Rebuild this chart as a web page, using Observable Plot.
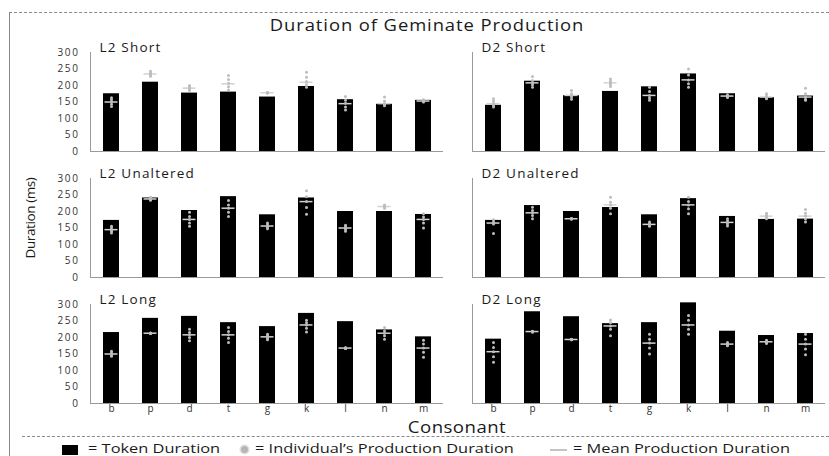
<!DOCTYPE html>
<html><head><meta charset="utf-8">
<script src="https://cdn.jsdelivr.net/npm/d3@7"></script>
<script src="https://cdn.jsdelivr.net/npm/@observablehq/plot@0.6"></script>
<style>
body{margin:0;background:#fff;font-family:"Open Sans",sans-serif;}
#wrap{position:relative;width:829px;height:456px;overflow:hidden;background:#fff;}
#chart{position:absolute;left:0;top:0;}
.abs{position:absolute;white-space:nowrap;color:#1a1a1a;line-height:1;}
.leg{font-size:12.5px;line-height:13px;top:442px;transform-origin:0 50%;transform:scaleX(1.31);}
#chart g[aria-label="text"] text{letter-spacing:1.2px;}
#chart g[aria-label="y-axis tick label"] text{letter-spacing:1.6px;}
</style></head><body>
<div id="wrap">
  <div id="chart"></div>
  <div class="abs" style="left:9px;top:12px;width:820px;border-top:1px dashed #8a8a8a;"></div>
  <div class="abs" style="left:9px;top:12px;height:444px;border-left:1px solid #8a8a8a;"></div>
  <div class="abs" style="left:22px;top:436px;width:807px;border-top:1px dashed #8a8a8a;"></div>
  <div class="abs" id="title" style="left:427px;top:25px;transform:translate(-50%,-50%) scaleX(1.15);font-size:16px;letter-spacing:0.8px;"></div>
  <div class="abs" id="ylabel" style="left:31px;top:218px;transform:translate(-50%,-50%) rotate(-90deg);font-size:13.5px;letter-spacing:-0.4px;"></div>
  <div class="abs" id="xlabel" style="left:457px;top:428px;transform:translate(-50%,-50%) scaleX(1.2);font-size:15.5px;letter-spacing:0.4px;"></div>
  <div class="abs" style="left:62px;top:445px;width:16px;height:10px;background:#000;"></div>
  <div class="abs leg" id="leg1" style="left:88px;"></div>
  <div class="abs" style="left:241px;top:446px;width:7px;height:7px;border-radius:50%;background:#b5b5b5;box-shadow:0 0 0 1.5px #e0e0e0;"></div>
  <div class="abs leg" id="leg2" style="left:255px;"></div>
  <div class="abs" style="left:550px;top:449px;width:17px;height:0;border-top:2px solid #c4c4c4;"></div>
  <div class="abs leg" id="leg3" style="left:573px;"></div>
</div>
<script>
// ---- texts ----
const titleText = "Duration of Geminate Production";
const yLabelText = "Duration (ms)";
const xLabelText = "Consonant";
const legendTexts = ["= Token Duration", "= Individual\u2019s Production Duration", "= Mean Production Duration"];

// ---- categories ----
const consonants = ["b", "p", "d", "t", "g", "k", "l", "n", "m"];
const groups = ["L2", "D2"];
const lengths = ["Short", "Unaltered", "Long"];
const yTicks = [0, 50, 100, 150, 200, 250, 300];

// ---- token durations (bars) ----
const tokenL2Short     = [175, 210, 177, 180, 165, 197, 157, 143, 155];
const tokenD2Short     = [140, 213, 169, 182, 196, 235, 175, 163, 168];
const tokenL2Unaltered = [173, 241, 203, 245, 190, 241, 200, 200, 191];
const tokenD2Unaltered = [173, 218, 200, 212, 190, 239, 185, 176, 177];
const tokenL2Long      = [215, 258, 264, 245, 233, 273, 248, 223, 202];
const tokenD2Long      = [195, 278, 263, 242, 245, 305, 219, 206, 212];

// ---- mean production durations (dashes) ----
const meanL2Short     = [150, 235, 192, 205, 178, 210, 145, 145, 153];
const meanD2Short     = [145, 208, 170, 208, 170, 217, 168, 165, 165];
const meanL2Unaltered = [145, 238, 176, 210, 156, 230, 150, 215, 176];
const meanD2Unaltered = [165, 196, 178, 220, 161, 220, 167, 186, 186];
const meanL2Long      = [150, 213, 208, 208, 202, 238, 168, 213, 168];
const meanD2Long      = [157, 218, 194, 235, 183, 238, 180, 187, 180];

// ---- individual production durations (dots) ----
const indivL2Short = [
  [163, 157, 150, 143, 136], [243, 238, 235, 232, 228], [200, 196, 192, 188, 185],
  [230, 218, 207, 196, 186], [179, 178, 178, 177, 177], [240, 225, 212, 203, 195],
  [167, 155, 146, 135, 126], [165, 152, 145, 141, 139], [157, 155, 153, 152, 150]];
const indivD2Short = [
  [160, 152, 145, 140, 135], [227, 215, 208, 202, 195], [185, 175, 170, 165, 158],
  [220, 213, 208, 203, 197], [195, 182, 170, 162, 155], [250, 232, 217, 205, 195],
  [172, 170, 168, 166, 164], [175, 168, 165, 162, 160], [192, 175, 165, 158, 155]];
const indivL2Unaltered = [
  [155, 150, 145, 140, 135], [243, 240, 238, 236, 234], [198, 185, 176, 165, 155],
  [233, 220, 210, 198, 185], [165, 160, 156, 152, 148], [263, 245, 230, 212, 192],
  [158, 153, 150, 146, 140], [220, 217, 215, 213, 210], [193, 183, 176, 165, 150]];
const indivD2Unaltered = [
  [175, 168, 165, 162, 133], [213, 203, 196, 188, 178], [179, 178, 178, 177, 177],
  [243, 228, 220, 210, 193], [168, 163, 161, 158, 155], [243, 230, 220, 208, 193],
  [178, 172, 167, 162, 156], [195, 190, 186, 182, 178], [206, 195, 186, 177, 168]];
const indivL2Long = [
  [158, 153, 150, 147, 143], [214, 213, 213, 212, 212], [225, 215, 208, 200, 190],
  [230, 218, 208, 198, 185], [210, 205, 202, 198, 193], [252, 245, 238, 228, 217],
  [169, 168, 168, 167, 167], [230, 220, 213, 205, 195], [192, 180, 168, 155, 140]];
const indivD2Long = [
  [185, 170, 157, 142, 125], [219, 218, 218, 217, 217], [195, 194, 194, 193, 193],
  [253, 245, 235, 225, 205], [210, 195, 183, 168, 150], [267, 252, 238, 225, 210],
  [185, 182, 180, 178, 175], [192, 189, 187, 185, 182], [210, 195, 180, 165, 148]];

// ---- tables built from the arrays ----
const panels = [
  {g: "L2", len: "Short", token: tokenL2Short, mean: meanL2Short, indiv: indivL2Short},
  {g: "D2", len: "Short", token: tokenD2Short, mean: meanD2Short, indiv: indivD2Short},
  {g: "L2", len: "Unaltered", token: tokenL2Unaltered, mean: meanL2Unaltered, indiv: indivL2Unaltered},
  {g: "D2", len: "Unaltered", token: tokenD2Unaltered, mean: meanD2Unaltered, indiv: indivD2Unaltered},
  {g: "L2", len: "Long", token: tokenL2Long, mean: meanL2Long, indiv: indivL2Long},
  {g: "D2", len: "Long", token: tokenD2Long, mean: meanD2Long, indiv: indivD2Long}
];
const bars = panels.flatMap(p => consonants.map((c, i) => ({g: p.g, len: p.len, c, v: p.token[i]})));
const means = panels.flatMap(p => consonants.map((c, i) => ({g: p.g, len: p.len, c, v: p.mean[i]})));
const indiv = panels.flatMap(p => consonants.flatMap((c, i) => p.indiv[i].map(v => ({g: p.g, len: p.len, c, v}))));
const labels = panels.map(p => ({g: p.g, len: p.len, label: `${p.g} ${p.len}`}));

const chart = Plot.plot({
  width: 829,
  height: 456,
  marginLeft: 89,
  marginRight: 3,
  marginTop: 52,
  marginBottom: 53,
  style: {background: "transparent", fontFamily: "'Open Sans', sans-serif", fontSize: "10px", color: "#333"},
  fx: {domain: groups, paddingInner: 0.0757, paddingOuter: 0, axis: null, label: null},
  fy: {domain: lengths, paddingInner: 0.2143, paddingOuter: 0, axis: null, label: null},
  x: {domain: consonants, paddingInner: 0.593, paddingOuter: 0.2966, label: null},
  y: {domain: [0, 300], label: null},
  marks: [
    Plot.barY(bars, {fx: "g", fy: "len", x: "c", y: "v", fill: "#000"}),
    Plot.ruleY([0], {stroke: "#9a9a9a"}),
    Plot.frame({anchor: "left", stroke: "#9a9a9a"}),
    Plot.tickY(means, {fx: "g", fy: "len", x: "c", y: "v", stroke: "#d2d2d2", strokeWidth: 1.5, insetLeft: 1.5, insetRight: 1.5}),
    Plot.dot(indiv, {fx: "g", fy: "len", x: "c", y: "v", r: 1.5, fill: "#bdbdbd"}),
    Plot.axisY({ticks: yTicks, tickSize: 0, tickPadding: 11, label: null, fontSize: 10}),
    Plot.axisX({tickSize: 0, tickPadding: 1, label: null, fontSize: 10}),
    Plot.text(labels, {fx: "g", fy: "len", text: "label", frameAnchor: "top-left", dx: 9, dy: -1, lineAnchor: "bottom", textAnchor: "start", fontSize: 13.5, fill: "#1a1a1a"})
  ]
});
document.getElementById("chart").appendChild(chart);
document.getElementById("title").textContent = titleText;
document.getElementById("ylabel").textContent = yLabelText;
document.getElementById("xlabel").textContent = xLabelText;
document.getElementById("leg1").textContent = legendTexts[0];
document.getElementById("leg2").textContent = legendTexts[1];
document.getElementById("leg3").textContent = legendTexts[2];
</script>
</body></html>
